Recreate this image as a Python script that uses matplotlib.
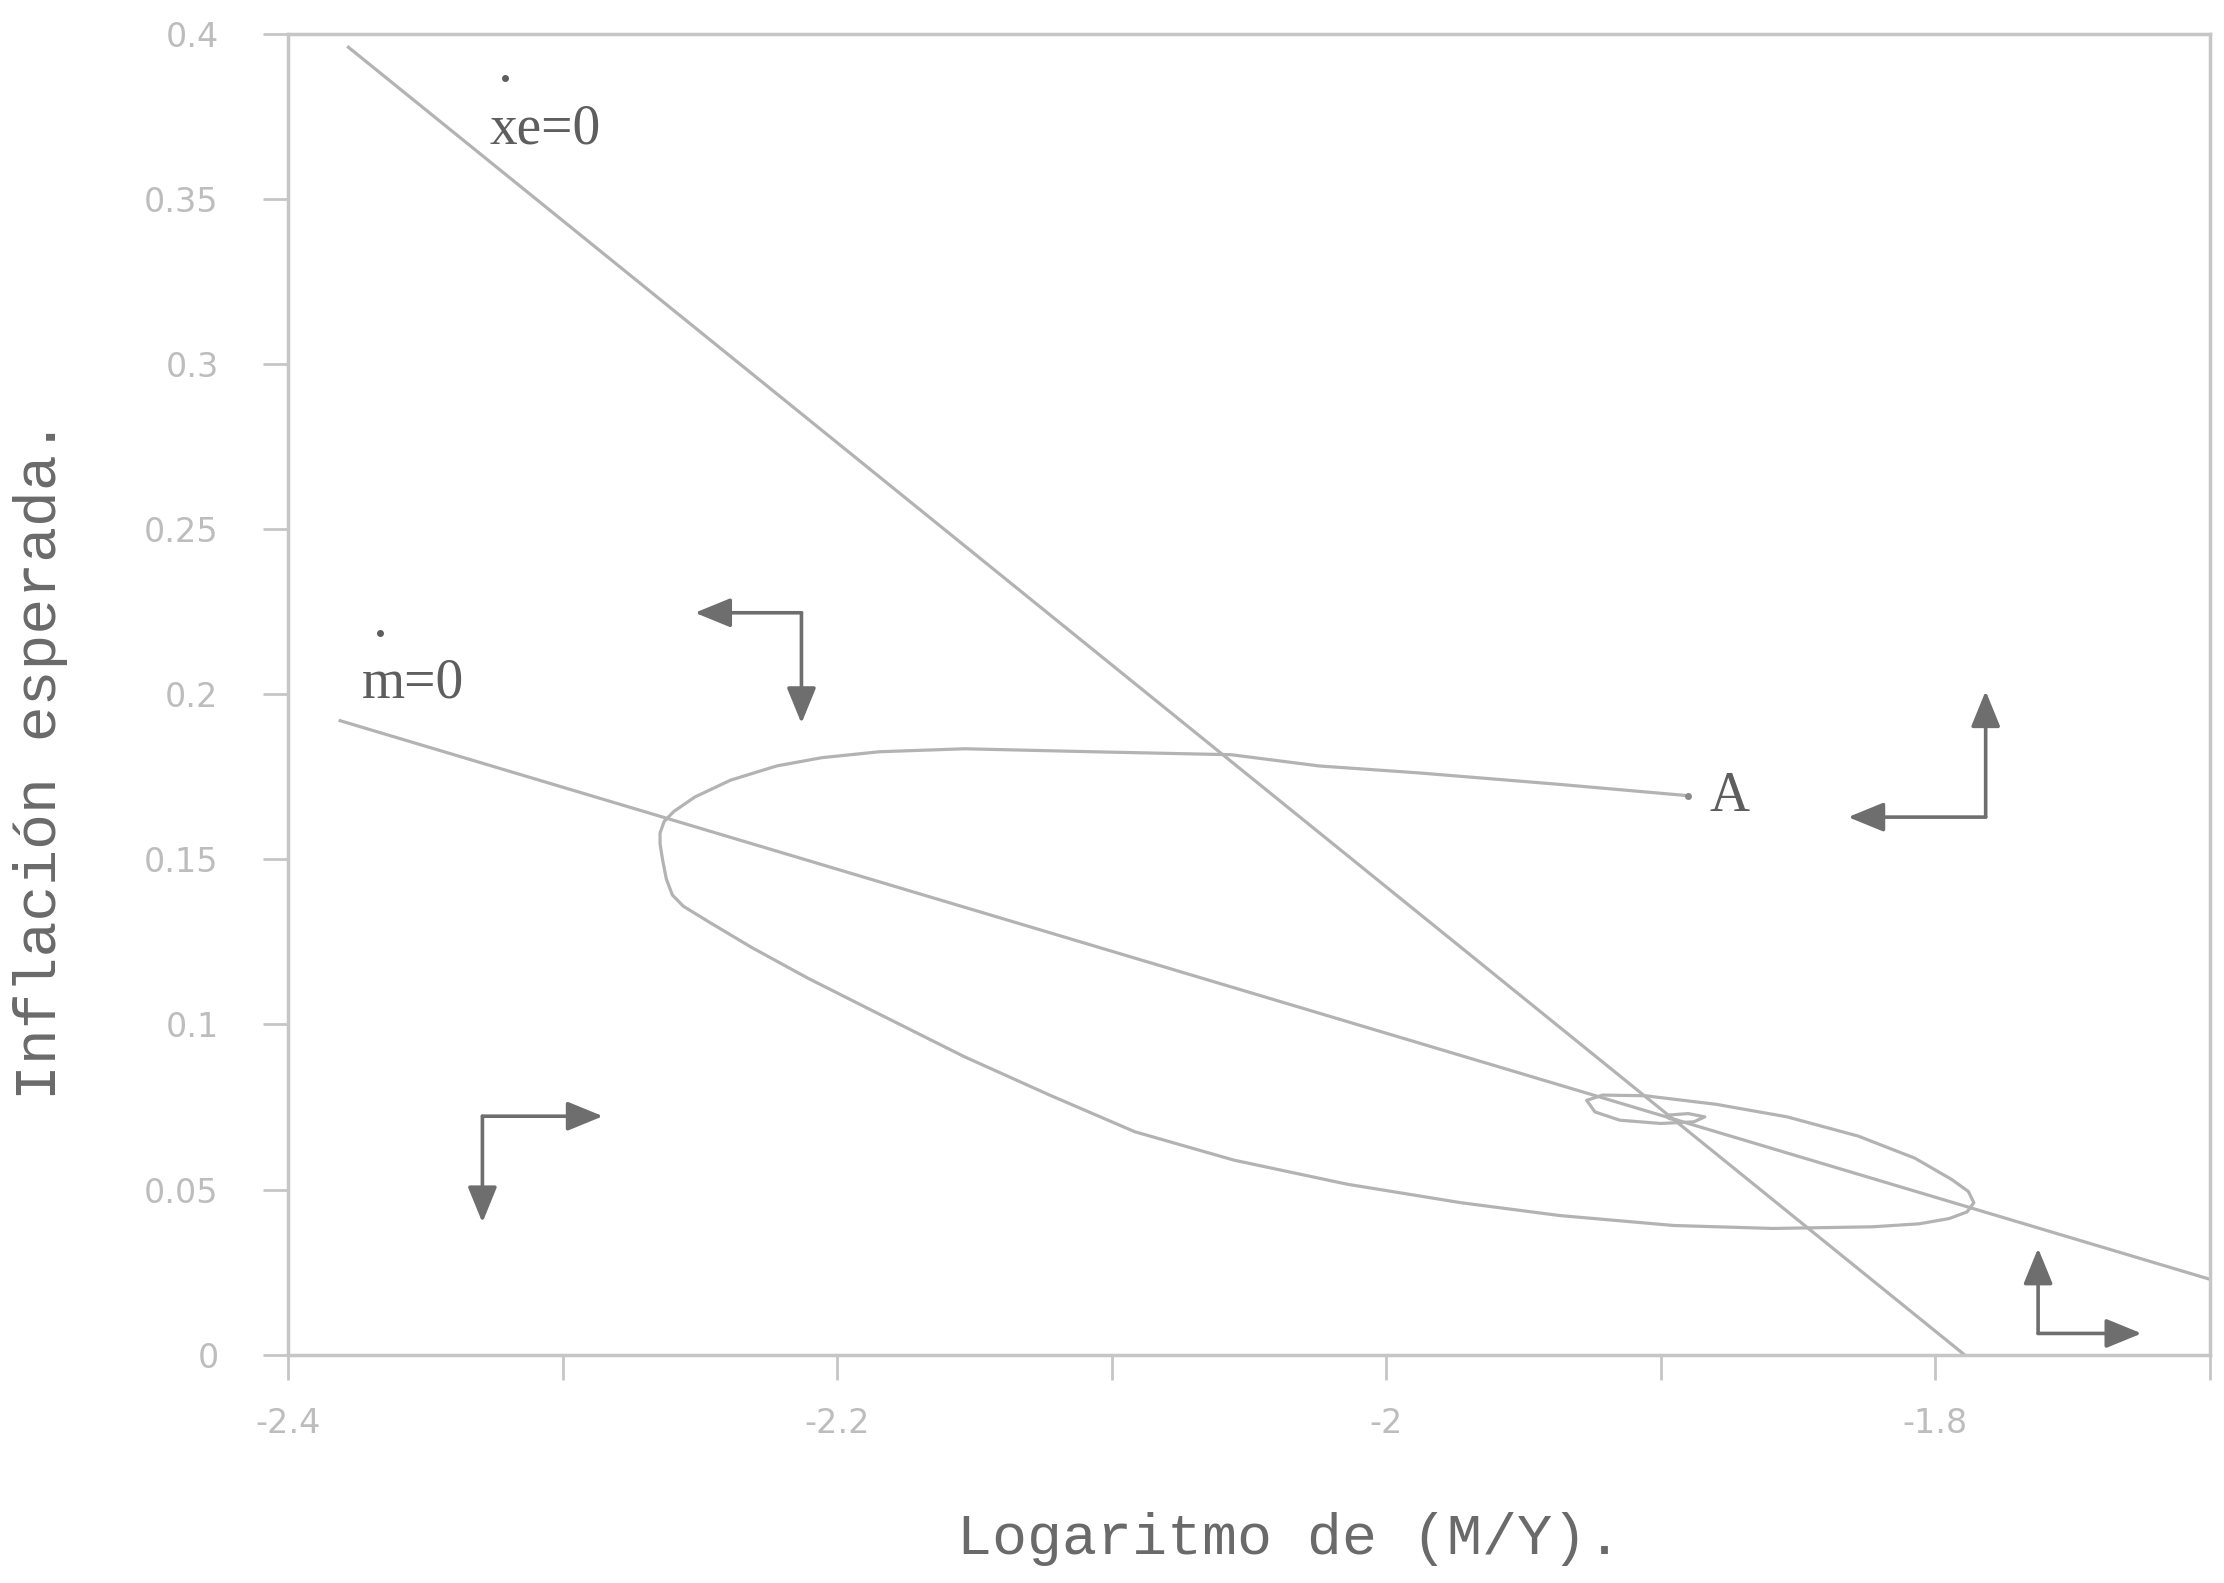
import matplotlib
matplotlib.use("Agg")
import matplotlib.pyplot as plt

# curvas de demarcacion (rectas)
xe0_x = [-2.378, -1.7895]
xe0_y = [0.396, 0.0]
m0_x = [-2.381, -1.70]
m0_y = [0.192, 0.0228]

# trayectoria desde el punto A
traj_x = [-1.8902, -1.9367, -1.9883, -2.0245, -2.0565, -2.1071, -2.1536, -2.1846,
          -2.2056, -2.2220, -2.2388, -2.2518, -2.2595, -2.2630, -2.2645, -2.2645,
          -2.2636, -2.2622, -2.2600, -2.2560, -2.2466, -2.2311, -2.2104, -2.1846,
          -2.1536, -2.1226, -2.0916, -2.0555, -2.0142, -1.9728, -1.9367, -1.8953,
          -1.8592, -1.8230, -1.8060, -1.7950, -1.7885, -1.7860, -1.7880, -1.7940,
          -1.8075, -1.8282, -1.8540, -1.8798, -1.9057, -1.9212, -1.9270, -1.9240,
          -1.9150, -1.9000, -1.8880, -1.8840, -1.8900, -1.8980, -1.8970, -1.8945]
traj_y = [0.1693, 0.1727, 0.1762, 0.1783, 0.1817, 0.1826, 0.1835, 0.1826,
          0.1808, 0.1783, 0.1740, 0.1689, 0.1645, 0.1615, 0.1580, 0.1547,
          0.1500, 0.1440, 0.1392, 0.1358, 0.1310, 0.1233, 0.1139, 0.1031,
          0.0902, 0.0786, 0.0675, 0.0589, 0.0516, 0.0460, 0.0421, 0.0391,
          0.0382, 0.0387, 0.0396, 0.0412, 0.0432, 0.0460, 0.0494, 0.0530,
          0.0595, 0.0662, 0.0720, 0.0758, 0.0784, 0.0786, 0.0770, 0.0735,
          0.0710, 0.0700, 0.0705, 0.0720, 0.0730, 0.0725, 0.0715, 0.0711]

# flechas de direccion: esquina, punta horizontal, punta vertical
arr_cx = [-2.213, -2.3292, -1.7817, -1.7626]
arr_cy = [0.2247, 0.0722, 0.1628, 0.0064]
arr_hx = [-2.2518, -2.2853, -1.8318, -1.7249]
arr_vy = [0.1912, 0.040, 0.201, 0.0322]

xticks = [-2.4, -2.3, -2.2, -2.1, -2.0, -1.9, -1.8, -1.7]
xticklabels = ["-2.4", "", "-2.2", "", "-2", "", "-1.8", ""]
yticks = [0, 0.05, 0.1, 0.15, 0.2, 0.25, 0.3, 0.35, 0.4]
yticklabels = ["0", "0.05", "0.1", "0.15", "0.2", "0.25", "0.3", "0.35", "0.4"]

linec = "#b3b3b3"
arrc = "#6e6e6e"
textc = "#5e5e5e"
axc = "#c6c6c6"

fig = plt.figure(figsize=(22.24, 15.83), dpi=100)
ax = fig.add_axes([0.1295, 0.1443, 0.8642, 0.8342])

ax.plot(xe0_x, xe0_y, color=linec, lw=2.3)
ax.plot(m0_x, m0_y, color=linec, lw=2.3)
ax.plot(traj_x, traj_y, color=linec, lw=2.3, solid_joinstyle="round")

for cx, cy, hx, vy in zip(arr_cx, arr_cy, arr_hx, arr_vy):
    for tx, ty in [(hx, cy), (cx, vy)]:
        ax.annotate("", xy=(tx, ty), xytext=(cx, cy),
                    arrowprops=dict(arrowstyle="-|>,head_length=1.1,head_width=0.45",
                                    color=arrc, lw=2.6, shrinkA=0, shrinkB=0,
                                    mutation_scale=20))

serif = ["Liberation Serif", "DejaVu Serif"]
ax.text(-2.3267, 0.3669, "xe=0", fontsize=40, family=serif, color=textc)
ax.plot([-2.321], [0.3867], marker="o", ms=4, color=textc)
ax.text(-2.3731, 0.1989, "m=0", fontsize=40, family=serif, color=textc)
ax.plot([-2.3664], [0.2187], marker="o", ms=4, color=textc)
ax.text(-1.8824, 0.1646, "A", fontsize=40, family=serif, color=textc)
ax.plot([-1.8902], [0.1693], marker="o", ms=4, color="#8a8a8a")

ax.set_xlim(-2.4, -1.7)
ax.set_ylim(0, 0.4)
ax.set_xticks(xticks)
ax.set_xticklabels(xticklabels)
ax.set_yticks(yticks)
ax.set_yticklabels(yticklabels)

for s in ax.spines.values():
    s.set_color(axc)
    s.set_linewidth(2.5)
ax.tick_params(axis="both", direction="out", length=18, width=2, color=axc,
               labelcolor="#bdbdbd", labelsize=24)
ax.tick_params(axis="x", pad=20)
ax.tick_params(axis="y", pad=32)

mono = ["Liberation Mono", "DejaVu Sans Mono"]
ax.set_xlabel("Logaritmo de (M/Y).", family=mono, fontsize=42, color="#6a6a6a", va="center")
ax.set_ylabel("Inflación esperada.", family=mono, fontsize=43, color="#6a6a6a", va="center")
ax.xaxis.set_label_coords(0.521, -0.14)
ax.yaxis.set_label_coords(-0.129, 0.451)

fig.savefig("out.png", dpi=100)
